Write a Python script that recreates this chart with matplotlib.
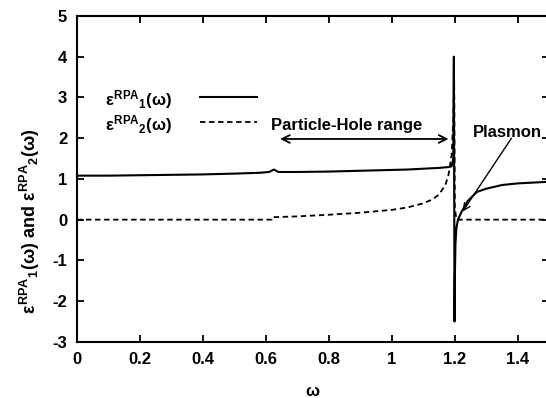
import matplotlib
matplotlib.use("Agg")
import matplotlib.pyplot as plt

plt.rcParams['font.family'] = ['Liberation Sans', 'DejaVu Sans']
plt.rcParams['font.weight'] = 'bold'
plt.rcParams['axes.unicode_minus'] = False
plt.rcParams['mathtext.fontset'] = 'custom'
plt.rcParams['mathtext.rm'] = 'Liberation Sans:bold'
plt.rcParams['mathtext.it'] = 'Liberation Sans:bold'
plt.rcParams['mathtext.bf'] = 'Liberation Sans:bold'

# eps1 (solid)
w1 = [0, 0.1, 0.2, 0.3, 0.4, 0.5, 0.58, 0.61, 0.625, 0.64, 0.7, 0.8, 0.9, 1.0,
      1.05, 1.1, 1.15, 1.18, 1.19, 1.195, 1.197, 1.198, 1.199, 1.2, 1.202, 1.205,
      1.21, 1.22, 1.24, 1.27, 1.3, 1.35, 1.4, 1.45, 1.5]
e1 = [1.08, 1.08, 1.09, 1.10, 1.11, 1.13, 1.15, 1.17, 1.23, 1.17, 1.17, 1.18, 1.20, 1.22,
      1.23, 1.25, 1.27, 1.29, 1.31, 1.5, 4.0, 1.0, -2.5, -1.5, -0.6, -0.2,
      0.0, 0.17, 0.45, 0.68, 0.76, 0.85, 0.89, 0.91, 0.93]

# eps2 (dashed)
w2 = [0, 0.3, 0.6, 0.619, 0.621, 0.7, 0.8, 0.9, 1.0, 1.05, 1.1, 1.13, 1.15, 1.17,
      1.18, 1.19, 1.195, 1.198, 1.2, 1.205, 1.5]
e2 = [0, 0, 0, 0, 0.06, 0.08, 0.12, 0.17, 0.24, 0.30, 0.40, 0.50, 0.62, 0.85,
      1.1, 1.6, 2.4, 3.4, 0.3, 0, 0]

xticks = [0, 0.2, 0.4, 0.6, 0.8, 1.0, 1.2, 1.4]
xticklabels = ['0', '0.2', '0.4', '0.6', '0.8', '1', '1.2', '1.4']
yticks = [-3, -2, -1, 0, 1, 2, 3, 4, 5]

fs = 12

fig = plt.figure(figsize=(5.46, 3.98), dpi=100)
ax = fig.add_axes([0.141, 0.141, 0.865, 0.819])

lab1 = r'$\varepsilon^{\mathrm{RPA}}{}_{1}(\omega)$'
lab2 = r'$\varepsilon^{\mathrm{RPA}}{}_{2}(\omega)$'
ax.plot(w1, e1, color='black', lw=1.5)
ax.plot(w2, e2, color='black', lw=1.3, dashes=(3, 2))

ax.set_xlim(0, 1.5)
ax.set_ylim(-3, 5)
ax.set_xticks(xticks)
ax.set_xticklabels(xticklabels)
ax.set_yticks(yticks)
ax.tick_params(direction='in', top=True, right=True, length=5, width=1.3,
               labelsize=fs, pad=7)
for s in ax.spines.values():
    s.set_linewidth(1.5)

ax.set_xlabel(r'$\omega$', fontsize=fs)
ax.xaxis.set_label_coords(0.5, -0.13)
ax.set_ylabel(r'$\varepsilon^{\mathrm{RPA}}{}_{1}(\omega)$ and $\varepsilon^{\mathrm{RPA}}{}_{2}(\omega)$',
              fontsize=13, fontweight='bold')
ax.yaxis.set_label_coords(-0.075, 0.37)

# key, gnuplot style: text right-justified, sample line to the right
ax.text(0.201, 0.727, lab1, transform=ax.transAxes, ha='right', va='baseline', fontsize=fs)
ax.text(0.201, 0.650, lab2, transform=ax.transAxes, ha='right', va='baseline', fontsize=fs)
ax.plot([0.261, 0.381], [0.752, 0.752], transform=ax.transAxes, color='black', lw=1.5)
ax.plot([0.261, 0.381], [0.675, 0.675], transform=ax.transAxes, color='black', lw=1.3,
        dashes=(3, 2))

ax.annotate('', xy=(0.645, 1.98), xytext=(1.18, 1.98),
            arrowprops=dict(arrowstyle='<->', color='black', lw=1.3,
                            shrinkA=0, shrinkB=0, mutation_scale=14))
ax.text(0.615, 2.3, 'Particle-Hole range', fontsize=fs, ha='left', va='center')

ax.text(1.257, 2.15, 'Plasmon', fontsize=fs, ha='left', va='center')
ax.annotate('', xy=(1.225, 0.2), xytext=(1.38, 2.0),
            arrowprops=dict(arrowstyle='->', color='black', lw=1.0,
                            shrinkA=0, shrinkB=0, mutation_scale=12))

fig.savefig('out.png', dpi=100)
